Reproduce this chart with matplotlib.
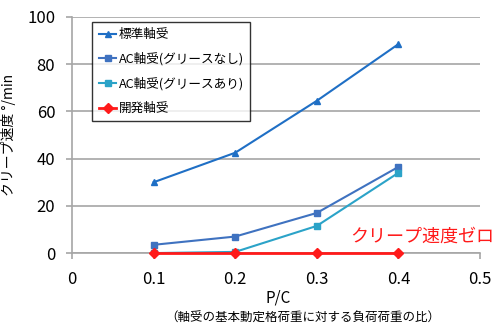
import matplotlib
matplotlib.use('Agg')
import matplotlib.pyplot as plt

plt.rcParams['font.family'] = ['Noto Sans CJK JP', 'DejaVu Sans']

# 荷重比 P/C
pc = [0.1, 0.2, 0.3, 0.4]

# クリープ速度 (°/min)
standard = [30, 42.5, 64.5, 88.5]
ac_no_grease = [3.5, 7, 17, 36.5]
ac_grease = [0, 0.5, 11.5, 34]
developed = [0, 0, 0, 0]

labels = ['標準軸受', 'AC軸受(グリースなし)', 'AC軸受(グリースあり)', '開発軸受']
x_ticks = [0, 0.1, 0.2, 0.3, 0.4, 0.5]
y_ticks = [0, 20, 40, 60, 80, 100]

fig = plt.figure(figsize=(5, 3.33), dpi=100)
ax = fig.add_axes([0.144, 0.24, 0.816, 0.709])

ax.plot(pc, standard, color='#1F6FC5', lw=1.5, marker='^', ms=4.5, label=labels[0], zorder=3)
ax.plot(pc, ac_no_grease, color='#3F72C0', lw=1.5, marker='s', ms=4.5, label=labels[1], zorder=3)
ax.plot(pc, ac_grease, color='#2BA3C8', lw=1.5, marker='s', ms=4.5, label=labels[2], zorder=3)
ax.plot(pc, developed, color='#FF1A1A', lw=2, marker='D', ms=5.5, label=labels[3],
        zorder=4, clip_on=False)

ax.set_xlim(0, 0.5)
ax.set_ylim(0, 100)
ax.set_xticks(x_ticks)
ax.set_xticklabels([f'{v:g}' for v in x_ticks])
ax.set_yticks(y_ticks)
ax.grid(axis='y', color='#A6A6A6', lw=1.2)
ax.set_axisbelow(True)
for s in ['top', 'right']:
    ax.spines[s].set_visible(False)
for s in ['left', 'bottom']:
    ax.spines[s].set_color('#A6A6A6')
    ax.spines[s].set_linewidth(1.2)
ax.tick_params(colors='#A6A6A6', labelcolor='black', labelsize=12, length=4, width=1.2)
ax.tick_params(axis='x', pad=9)
ax.tick_params(axis='y', pad=8)

ax.set_ylabel('クリープ速度 °/min', fontsize=10, labelpad=8)
ax.text(0.505, -0.19, 'P/C', transform=ax.transAxes, ha='center', va='center', fontsize=11)
ax.text(0.566, -0.275, '（軸受の基本動定格荷重に対する負荷荷重の比）', transform=ax.transAxes,
        ha='center', va='center', fontsize=9)

ax.text(0.3407, 6.8, 'クリープ速度ゼロ', color='#FF1A1A', fontsize=13, ha='left', va='center',
        clip_on=False)

leg = ax.legend(loc='upper left', bbox_to_anchor=(0.05, 0.98), fontsize=9.1, frameon=True,
                fancybox=False, edgecolor='black', handlelength=1.4, handletextpad=0.2,
                borderpad=0.5, labelspacing=0.9, borderaxespad=0)
leg.get_frame().set_linewidth(1)

fig.savefig('out.png', dpi=100)
